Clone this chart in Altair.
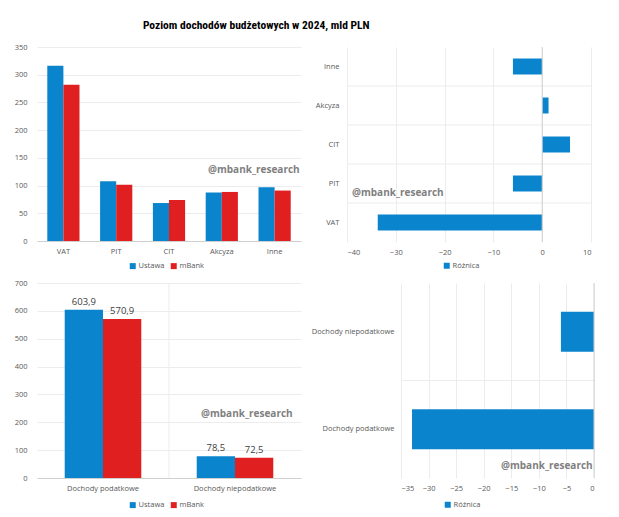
import altair as alt
import pandas as pd

TITLE = "Poziom dochodów budżetowych w 2024, mld PLN"
WATERMARK = "@mbank_research"

categories = ["VAT", "PIT", "CIT", "Akcyza", "Inne"]
series = ["Ustawa", "mBank"]
ustawa = [316.0, 108.0, 68.5, 87.5, 97.0]
mbank = [282.0, 101.5, 74.0, 88.5, 91.0]
roznica = [-33.7, -6.0, 5.7, 1.3, -6.0]

groups = ["Dochody podatkowe", "Dochody niepodatkowe"]
ustawa_total = [603.9, 78.5]
mbank_total = [570.9, 72.5]
roznica_total = [-33.0, -6.0]

y_ticks_1 = [0, 50, 100, 150, 200, 250, 300, 350]
x_ticks_2 = [-40, -30, -20, -10, 0, 10]
y_ticks_3 = [0, 100, 200, 300, 400, 500, 600, 700]
x_ticks_4 = [-35, -30, -25, -20, -15, -10, -5, 0]

BLUE = "#0A84CC"
RED = "#E02020"
GRID = "#ECECEC"
LINE = "#D0D0D0"
FONT = "Open Sans"
TITLE_FONT = "Liberation Sans Narrow, Roboto Condensed, Open Sans"

df1 = pd.DataFrame(
    [{"cat": c, "series": "Ustawa", "value": v} for c, v in zip(categories, ustawa)]
    + [{"cat": c, "series": "mBank", "value": v} for c, v in zip(categories, mbank)]
)
df2 = pd.DataFrame({"cat": categories, "value": roznica, "series": ["Różnica"] * len(categories)})
df3 = pd.DataFrame(
    [{"cat": c, "series": "Ustawa", "value": v} for c, v in zip(groups, ustawa_total)]
    + [{"cat": c, "series": "mBank", "value": v} for c, v in zip(groups, mbank_total)]
)
df4 = pd.DataFrame({"cat": groups, "value": roznica_total, "series": ["Różnica"] * len(groups)})
wm_df = pd.DataFrame({"t": [WATERMARK]})
zero_df = pd.DataFrame({"z": [0]})
# category boundaries (Excel-style category gridlines): after every band except the last
bound2_df = pd.DataFrame({"cat": categories[::-1][:-1]})
bound3_df = pd.DataFrame({"cat": groups[:-1]})
bound4_df = pd.DataFrame({"cat": groups[::-1][:-1]})


def legend(x, y):
    return alt.Legend(
        orient="none", legendX=x, legendY=y, direction="horizontal", title=None,
        symbolType="square", symbolSize=36, symbolStrokeWidth=0,
        labelFontSize=7.5, labelColor="#595959", labelFont=FONT,
        columnPadding=5, labelOffset=2,
    )


def watermark(x, y):
    return alt.Chart(wm_df).mark_text(
        align="left", baseline="middle", fontSize=10, fontWeight="bold",
        color="#7F7F7F", font=FONT,
    ).encode(text="t:N", x=alt.value(x), y=alt.value(y))


pair_scale = alt.Scale(domain=series, range=[BLUE, RED])
diff_scale = alt.Scale(domain=["Różnica"], range=[BLUE])

# Panel 1: grouped bars per tax
bars1 = alt.Chart(df1).mark_bar().encode(
    x=alt.X("cat:N", sort=categories,
            scale=alt.Scale(paddingInner=0.39, paddingOuter=0.195),
            axis=alt.Axis(title=None, labelAngle=0, ticks=False, domainColor=LINE,
                          labelPadding=6, grid=False, bandPosition=0.5)),
    xOffset=alt.XOffset("series:N", sort=series,
                        scale=alt.Scale(paddingInner=0, paddingOuter=0)),
    y=alt.Y("value:Q", scale=alt.Scale(domain=[0, 350], nice=False),
            axis=alt.Axis(values=y_ticks_1, tickCount=len(y_ticks_1), title=None,
                          domain=False, ticks=False, gridColor=GRID,
                          minExtent=29, maxExtent=29, labelPadding=10, labelOverlap=False)),
    color=alt.Color("series:N", scale=pair_scale, sort=series, legend=legend(92, 215)),
)
p1 = alt.layer(bars1, watermark(171, 123)).properties(width=264, height=194)

# Panel 2: difference per tax
bars2 = alt.Chart(df2).mark_bar().encode(
    y=alt.Y("cat:N", sort=categories[::-1],
            scale=alt.Scale(paddingInner=0.59, paddingOuter=0.295),
            axis=alt.Axis(title=None, ticks=False, domain=False, labelPadding=8,
                          minExtent=36, maxExtent=36, grid=False, bandPosition=0.5)),
    x=alt.X("value:Q", scale=alt.Scale(domain=[-40, 10], nice=False),
            axis=alt.Axis(values=x_ticks_2, tickCount=len(x_ticks_2), title=None,
                          ticks=False, domain=False, gridColor=GRID, labelPadding=6,
                          labelOverlap=False)),
    color=alt.Color("series:N", scale=diff_scale, legend=legend(96, 215)),
)
bound2 = alt.Chart(bound2_df).mark_rule(color=GRID, yOffset=11.5).encode(
    y=alt.Y("cat:N", sort=categories[::-1], bandPosition=1)
)
rule2 = alt.Chart(zero_df).mark_rule(color=LINE).encode(x="z:Q")
p2 = alt.layer(bars2, bound2, rule2, watermark(5, 146)).properties(width=244, height=195)

# Panel 3: totals
axis3 = alt.Axis(title=None, labelAngle=0, ticks=False, domainColor=LINE,
                 labelPadding=6, grid=False, bandPosition=0.5)
scale3 = alt.Scale(paddingInner=0.42, paddingOuter=0.21)
x3 = alt.X("cat:N", sort=groups, scale=scale3, axis=axis3)
xo3 = alt.XOffset("series:N", sort=series, scale=alt.Scale(paddingInner=0, paddingOuter=0))
y3 = alt.Y("value:Q", scale=alt.Scale(domain=[0, 700], nice=False),
           axis=alt.Axis(values=y_ticks_3, tickCount=len(y_ticks_3), title=None,
                         domain=False, ticks=False, gridColor=GRID,
                         minExtent=29, maxExtent=29, labelPadding=10, labelOverlap=False))
bars3 = alt.Chart(df3).mark_bar().encode(
    x=x3, xOffset=xo3, y=y3,
    color=alt.Color("series:N", scale=pair_scale, sort=series, legend=legend(92, 218)),
)
labels3 = alt.Chart(df3).transform_calculate(
    label="replace(format(datum.value, '.1f'), '.', ',')"
).mark_text(baseline="bottom", dy=-3, fontSize=9.5, color="#404040", font=FONT).encode(
    x=x3, xOffset=xo3, y=y3, text="label:N",
)
bound3 = alt.Chart(bound3_df).mark_rule(color=GRID, xOffset=27.7).encode(
    x=alt.X("cat:N", sort=groups, scale=scale3, axis=axis3, bandPosition=1)
)
p3 = alt.layer(bars3, labels3, bound3, watermark(164, 131)).properties(width=264, height=195)

# Panel 4: difference totals
bars4 = alt.Chart(df4).mark_bar().encode(
    y=alt.Y("cat:N", sort=groups[::-1],
            scale=alt.Scale(paddingInner=0.59, paddingOuter=0.295),
            axis=alt.Axis(title=None, ticks=False, domain=False, labelPadding=7,
                          minExtent=89, maxExtent=89, grid=False, bandPosition=0.5)),
    x=alt.X("value:Q", scale=alt.Scale(domain=[-35, 0], nice=False),
            axis=alt.Axis(values=x_ticks_4, tickCount=len(x_ticks_4), title=None,
                          ticks=False, domain=False, gridColor=GRID, labelPadding=6,
                          labelOverlap=False)),
    color=alt.Color("series:N", scale=diff_scale, legend=legend(43, 218)),
)
bound4 = alt.Chart(bound4_df).mark_rule(color=GRID, yOffset=28.8).encode(
    y=alt.Y("cat:N", sort=groups[::-1], bandPosition=1)
)
rule4 = alt.Chart(zero_df).mark_rule(color=LINE).encode(x="z:Q")
p4 = alt.layer(bars4, bound4, rule4, watermark(100, 183)).properties(width=193, height=195)

row1 = alt.hconcat(p1, p2, spacing=10).resolve_scale(
    color="independent", xOffset="independent").resolve_legend(color="independent")
row2 = alt.hconcat(p3, p4, spacing=10).resolve_scale(
    color="independent", xOffset="independent").resolve_legend(color="independent")

chart = alt.vconcat(row1, row2, spacing=9).resolve_scale(
    color="independent", xOffset="independent"
).resolve_legend(color="independent").properties(
    title=alt.TitleParams(TITLE, fontSize=11.5, font=TITLE_FONT, fontWeight="bold",
                          anchor="middle", color="#000000", dx=-45, offset=12),
    padding={"left": 0, "top": 11, "right": 0, "bottom": 0},
).configure_view(stroke=None).configure_axis(
    labelFont=FONT, labelFontSize=7.5, labelColor="#595959",
)

chart.save("out.html", embed_options={"renderer": "svg", "actions": False})
